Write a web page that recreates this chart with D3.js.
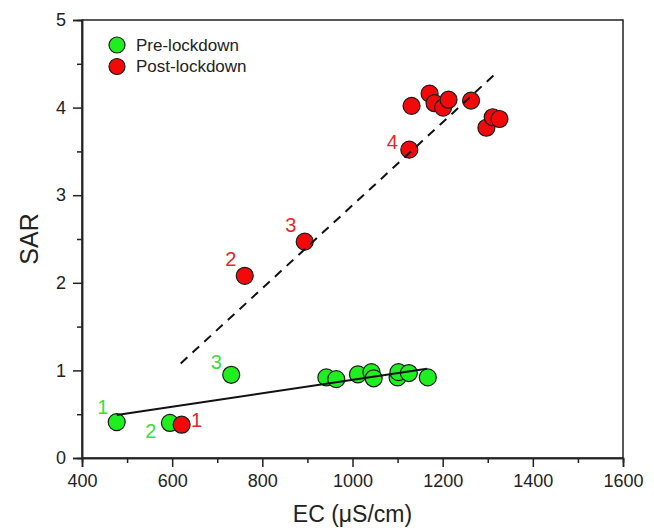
<!DOCTYPE html>
<html><head><meta charset="utf-8">
<script src="https://cdn.jsdelivr.net/npm/d3@7"></script>
<style>body{margin:0;background:#fff}svg{display:block}text{font-family:"Liberation Sans",Arial,sans-serif}</style>
</head><body>
<svg id="c" width="654" height="528"></svg>
<script>
// Data
const preEC  = [477, 595, 731, 942, 964, 1012, 1042, 1047, 1100, 1102, 1125, 1167];
const preSAR = [0.41, 0.40, 0.95, 0.92, 0.90, 0.955, 0.98, 0.91, 0.92, 0.98, 0.97, 0.92];
const postEC  = [621, 761, 894, 1126, 1131, 1171, 1182, 1201, 1213, 1263, 1297, 1311, 1326];
const postSAR = [0.38, 2.08, 2.47, 3.52, 4.02, 4.16, 4.05, 4.00, 4.09, 4.08, 3.77, 3.89, 3.87];
const preLine  = [[477, 0.49], [1165, 1.02]];
const postLine = [[619, 1.08], [1324, 4.42]];
const preLabels  = [{t:"1", ec:477, sar:0.41, dx:-14, dy:-15}, {t:"2", ec:595, sar:0.40, dx:-19, dy:8}, {t:"3", ec:731, sar:0.95, dx:-15, dy:-13}];
const postLabels = [{t:"1", ec:621, sar:0.38, dx:15, dy:-5}, {t:"2", ec:761, sar:2.08, dx:-14, dy:-17}, {t:"3", ec:894, sar:2.47, dx:-14, dy:-17}, {t:"4", ec:1126, sar:3.52, dx:-17, dy:-8}];
const xTicks = [400, 600, 800, 1000, 1200, 1400, 1600];
const yTicks = [0, 1, 2, 3, 4, 5];

const svg = d3.select("#c");
const L = 82, R = 623, T = 20, B = 458;
const x = d3.scaleLinear().domain([400, 1600]).range([L, R]);
const y = d3.scaleLinear().domain([0, 5]).range([B, T]);
const GREEN = "#1fee1f", RED = "#f20a0a";
const GTXT = "#3ddc3d", RTXT = "#e8262a";

// frame
svg.append("rect").attr("x", L).attr("y", T).attr("width", R - L).attr("height", B - T)
  .attr("fill", "none").attr("stroke", "#222").attr("stroke-width", 1.5);

// axes
const xAx = svg.append("g").attr("transform", `translate(0,${B})`)
  .call(d3.axisBottom(x).tickValues(xTicks).tickSize(9).tickPadding(7).tickFormat(d3.format("d")));
const xMin = svg.append("g").attr("transform", `translate(0,${B})`)
  .call(d3.axisBottom(x).tickValues(d3.range(500, 1600, 200)).tickSize(5).tickFormat(""));
const yAx = svg.append("g").attr("transform", `translate(${L},0)`)
  .call(d3.axisLeft(y).tickValues(yTicks).tickSize(9).tickPadding(7).tickFormat(d3.format("d")));
const yMin = svg.append("g").attr("transform", `translate(${L},0)`)
  .call(d3.axisLeft(y).tickValues(d3.range(0.5, 5, 1)).tickSize(5).tickFormat(""));
[xAx, xMin, yAx, yMin].forEach(g => {
  g.select(".domain").attr("stroke", "#222").attr("stroke-width", 1.5);
  g.selectAll(".tick line").attr("stroke", "#222").attr("stroke-width", 1.5);
  g.selectAll(".tick text").attr("font-size", 18).attr("fill", "#222");
});

// axis titles
svg.append("text").attr("x", (L + R) / 2).attr("y", 522).attr("text-anchor", "middle")
  .attr("font-size", 23).attr("fill", "#222").text("EC (μS/cm)");
svg.append("text").attr("transform", `translate(38,${(T + B) / 2}) rotate(-90)`).attr("text-anchor", "middle")
  .attr("font-size", 25).attr("fill", "#222").text("SAR");

// points
const pre = preEC.map((e, i) => [e, preSAR[i]]);
const post = postEC.map((e, i) => [e, postSAR[i]]);
svg.append("g").selectAll("circle").data(pre).join("circle")
  .attr("cx", d => x(d[0])).attr("cy", d => y(d[1])).attr("r", 8.5)
  .attr("fill", GREEN).attr("stroke", "#1a1a1a").attr("stroke-width", 1.2);
svg.append("g").selectAll("circle").data(post).join("circle")
  .attr("cx", d => x(d[0])).attr("cy", d => y(d[1])).attr("r", 8.5)
  .attr("fill", RED).attr("stroke", "#1a1a1a").attr("stroke-width", 1.2);

// fit lines
const line = d3.line().x(d => x(d[0])).y(d => y(d[1]));
svg.append("path").attr("d", line(preLine)).attr("stroke", "#111").attr("stroke-width", 2).attr("fill", "none");
svg.append("path").attr("d", line(postLine)).attr("stroke", "#111").attr("stroke-width", 2)
  .attr("stroke-dasharray", "9,7").attr("fill", "none");

// point labels
function labels(arr, col) {
  svg.append("g").selectAll("text").data(arr).join("text")
    .attr("x", d => x(d.ec) + d.dx).attr("y", d => y(d.sar) + d.dy)
    .attr("text-anchor", "middle").attr("dominant-baseline", "central")
    .attr("font-size", 20).attr("fill", col).text(d => d.t);
}
labels(preLabels, GTXT);
labels(postLabels, RTXT);

// legend
const legend = [{t:"Pre-lockdown", c:GREEN}, {t:"Post-lockdown", c:RED}];
const lg = svg.append("g");
legend.forEach((d, i) => {
  lg.append("circle").attr("cx", 117).attr("cy", 45 + i * 21.5).attr("r", 8)
    .attr("fill", d.c).attr("stroke", "#1a1a1a").attr("stroke-width", 1.2);
  lg.append("text").attr("x", 136).attr("y", 45 + i * 21.5).attr("dominant-baseline", "central")
    .attr("font-size", 17).attr("fill", "#222").text(d.t);
});
</script>
</body></html>
